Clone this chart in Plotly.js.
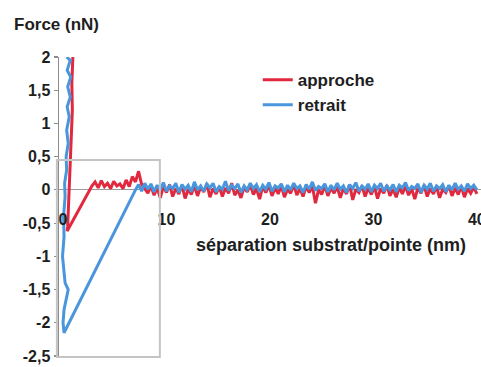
<!DOCTYPE html>
<html>
<head>
<meta charset="utf-8">
<script src="https://cdn.plot.ly/plotly-3.0.1.min.js"></script>
<style>html,body{margin:0;padding:0;background:#fff;}#chart{width:481px;height:367px;}</style>
</head>
<body>
<div id="chart"></div>
<script>
// Tick labels
const xTickVals = [0, 10, 20, 30, 40];
const xTickText = ['0', '10', '20', '30', '40'];
const yTickVals = [2, 1.5, 1, 0.5, 0, -0.5, -1, -1.5, -2, -2.5];
const yTickText = ['2', '1,5', '1', '0,5', '0', '-0,5', '-1', '-1,5', '-2', '-2,5'];

// Series names
const seriesNames = ['approche', 'retrait'];

// approche (red): separation (nm) and force (nN)
const approcheX = [0.95, 0.85, 0.9, 0.8, 0.75, 0.65, 0.55, 0.45, 0.4,
  2.8, 3.1, 3.4, 3.7, 4.0, 4.3, 4.6, 4.9, 5.2, 5.5, 5.8, 6.1, 6.4, 6.7, 7.0, 7.3, 7.6, 7.9,
  8.2, 8.5, 8.8, 9.1, 9.4, 9.7, 10.0, 10.3, 10.6, 10.9, 11.2, 11.5, 11.8, 12.1, 12.4, 12.7,
  13.0, 13.3, 13.6, 13.9, 14.2, 14.5, 14.8, 15.1, 15.4, 15.7, 16.0, 16.3, 16.6, 16.9, 17.2,
  17.5, 17.8, 18.1, 18.4, 18.7, 19.0, 19.3, 19.6, 19.9, 20.2, 20.5, 20.8, 21.1, 21.4, 21.7,
  22.0, 22.3, 22.6, 22.9, 23.2, 23.5, 23.8, 24.1, 24.4, 24.7, 25.0, 25.3, 25.6, 25.9, 26.2,
  26.5, 26.8, 27.1, 27.4, 27.7, 28.0, 28.3, 28.6, 28.9, 29.2, 29.5, 29.8, 30.1, 30.4, 30.7,
  31.0, 31.3, 31.6, 31.9, 32.2, 32.5, 32.8, 33.1, 33.4, 33.7, 34.0, 34.3, 34.6, 34.9, 35.2,
  35.5, 35.8, 36.1, 36.4, 36.7, 37.0, 37.3, 37.6, 37.9, 38.2, 38.5, 38.8, 39.1, 39.4, 39.7, 40.0];
const approcheF = [2.0, 1.6, 1.2, 0.8, 0.4, 0.0, -0.3, -0.55, -0.62,
  0.06, 0.12, 0.03, 0.14, 0.05, 0.1, 0.02, 0.13, 0.06, 0.09, 0.02, 0.15, 0.05, 0.2, 0.12, 0.28, 0.08, 0.02,
  -0.05, 0.06, -0.08, 0.03, -0.12, 0.05, -0.04, 0.08, -0.1, 0.02, -0.06, 0.07, -0.13, 0.01, -0.07, 0.06,
  -0.09, 0.04, -0.03, 0.09, -0.11, 0.02, -0.06, 0.05, -0.1, 0.03, -0.05, 0.1, -0.08, 0.0, -0.12,
  0.04, -0.03, 0.08, -0.07, 0.02, -0.14, 0.05, -0.04, 0.07, -0.09, 0.03, -0.06, 0.06, -0.11, 0.01,
  -0.05, 0.08, -0.08, 0.02, -0.1, 0.05, -0.04, 0.06, -0.2, 0.0, -0.07, 0.07, -0.09, 0.03, -0.05,
  0.05, -0.12, 0.02, -0.06, 0.08, -0.15, 0.01, -0.04, 0.06, -0.1, 0.03, -0.07, 0.05, -0.13, 0.02,
  -0.05, 0.07, -0.09, 0.01, -0.11, 0.04, -0.06, 0.06, -0.08, 0.02, -0.14, 0.03, -0.05, 0.07, -0.1,
  0.02, -0.06, 0.05, -0.12, 0.01, -0.04, 0.06, -0.09, 0.03, -0.07, 0.05, -0.11, 0.02, -0.05, 0.04, -0.06];

// retrait (blue): separation (nm) and force (nN)
const retraitX = [0.35, 0.7, 0.4, 0.75, 0.45, 0.7, 0.4, 0.6, 0.35, 0.5, 0.3, 0.35, 0.15, 0.2, 0.05, 0.1,
  -0.05, 0.05, 0.2, 0.5, 0.35, 0.1, 0.0, 0.1,
  7.0, 7.3, 7.6, 7.9, 8.2, 8.5, 8.8, 9.1, 9.4, 9.7, 10.0, 10.3, 10.6, 10.9, 11.2, 11.5, 11.8, 12.1,
  12.4, 12.7, 13.0, 13.3, 13.6, 13.9, 14.2, 14.5, 14.8, 15.1, 15.4, 15.7, 16.0, 16.3, 16.6, 16.9,
  17.2, 17.5, 17.8, 18.1, 18.4, 18.7, 19.0, 19.3, 19.6, 19.9, 20.2, 20.5, 20.8, 21.1, 21.4, 21.7,
  22.0, 22.3, 22.6, 22.9, 23.2, 23.5, 23.8, 24.1, 24.4, 24.7, 25.0, 25.3, 25.6, 25.9, 26.2, 26.5,
  26.8, 27.1, 27.4, 27.7, 28.0, 28.3, 28.6, 28.9, 29.2, 29.5, 29.8, 30.1, 30.4, 30.7, 31.0, 31.3,
  31.6, 31.9, 32.2, 32.5, 32.8, 33.1, 33.4, 33.7, 34.0, 34.3, 34.6, 34.9, 35.2, 35.5, 35.8, 36.1,
  36.4, 36.7, 37.0, 37.3, 37.6, 37.9, 38.2, 38.5, 38.8, 39.1, 39.4, 39.7, 40.0];
const retraitF = [2.0, 1.95, 1.8, 1.7, 1.55, 1.4, 1.25, 1.1, 0.9, 0.7, 0.5, 0.3, 0.1, -0.1, -0.4, -0.7,
  -1.0, -1.2, -1.4, -1.5, -1.6, -1.8, -2.0, -2.15,
  0.0, 0.08, -0.02, 0.1, 0.01, 0.09, -0.03, 0.07, 0.0, 0.11, -0.02, 0.06, 0.02, 0.1, -0.04, 0.08, 0.01, 0.07,
  -0.03, 0.12, 0.0, 0.06, -0.02, 0.09, 0.03, 0.1, -0.03, 0.05, 0.01, 0.13, -0.01, 0.07, 0.02, 0.09,
  -0.04, 0.06, 0.0, 0.1, 0.02, 0.08, -0.03, 0.07, 0.01, 0.11, -0.02, 0.06, 0.03, 0.09, -0.03, 0.07,
  0.0, 0.1, 0.02, 0.06, -0.04, 0.08, 0.01, 0.12, -0.01, 0.05, 0.02, 0.09, -0.03, 0.07, 0.0, 0.1,
  0.01, 0.06, -0.04, 0.08, 0.02, 0.11, -0.02, 0.06, 0.01, 0.09, -0.03, 0.07, 0.02, 0.1, -0.02, 0.06,
  0.0, 0.08, -0.03, 0.07, 0.03, 0.11, -0.01, 0.05, 0.02, 0.09, -0.04, 0.07, 0.01, 0.1, -0.02, 0.06,
  0.02, 0.08, -0.03, 0.07, 0.0, 0.1, 0.01, 0.06, -0.02, 0.09, 0.02, 0.07, 0.0];

const RED = '#e2283e';
const BLUE = '#4a96dc';
const FONT = 'Liberation Sans, Arial, sans-serif';
const TXT = '#1e1e1e';

const traces = [
  {x: approcheX, y: approcheF, name: seriesNames[0], type: 'scatter', mode: 'lines',
   line: {color: RED, width: 3}},
  {x: retraitX, y: retraitF, name: seriesNames[1], type: 'scatter', mode: 'lines',
   line: {color: BLUE, width: 3}}
];

const layout = {
  width: 481, height: 367,
  margin: {l: 59, r: 0, t: 57, b: 11},
  paper_bgcolor: '#ffffff', plot_bgcolor: 'rgba(0,0,0,0)',
  showlegend: true,
  font: {family: FONT, color: TXT},
  legend: {x: 0.471, y: 0.983, xanchor: 'left', yanchor: 'top', bgcolor: 'rgba(0,0,0,0)',
    font: {family: FONT, size: 17, color: TXT, weight: 'bold'}, itemwidth: 30},
  xaxis: {range: [-0.39, 40.4], tickvals: xTickVals, ticktext: xTickText,
    anchor: 'free', position: 0.5556, showline: false, ticks: '', showgrid: false, zeroline: false,
    ticklabelstandoff: 18, ticklabeloverflow: 'allow',
    tickfont: {family: FONT, size: 16, color: TXT, weight: 'bold'}},
  yaxis: {range: [-2.5, 2], tickvals: yTickVals, ticktext: yTickText,
    showline: true, linecolor: '#8c8c8c', linewidth: 1.5, ticks: 'outside', ticklen: 4,
    tickcolor: '#8c8c8c', tickwidth: 1.2, showgrid: false,
    zeroline: true, zerolinecolor: '#9a9a9a', zerolinewidth: 1.2,
    tickfont: {family: FONT, size: 16, color: TXT, weight: 'bold'}},
  shapes: [
    {type: 'rect', xref: 'paper', yref: 'paper', x0: -0.005, x1: 0.239, y0: -0.003, y1: 0.6555,
     line: {color: '#c4c4c4', width: 2}, fillcolor: 'rgba(0,0,0,0)', layer: 'above'}
  ],
  annotations: [
    {text: 'Force (nN)', xref: 'paper', yref: 'paper', x: -0.111, y: 1.11, xanchor: 'left', yanchor: 'middle',
     showarrow: false, font: {family: FONT, size: 17, color: TXT, weight: 'bold'}},
    {text: 'séparation substrat/pointe (nm)', xref: 'paper', yref: 'paper', x: 0.6445, y: 0.371,
     xanchor: 'center', yanchor: 'middle', showarrow: false,
     font: {family: FONT, size: 18, color: TXT, weight: 'bold'}}
  ]
};

Plotly.newPlot('chart', traces, layout, {displayModeBar: false, staticPlot: true});
</script>
</body>
</html>
